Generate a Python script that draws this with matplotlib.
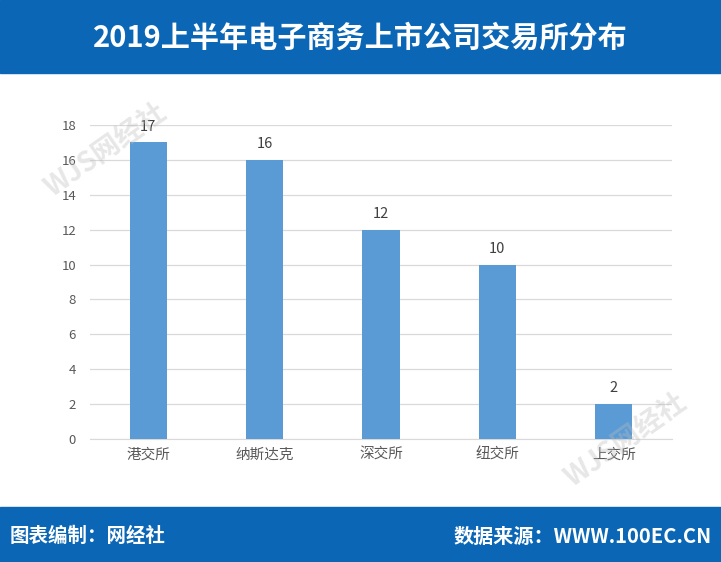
import matplotlib
matplotlib.use("Agg")
import matplotlib.pyplot as plt

plt.rcParams["font.family"] = ["Noto Sans CJK SC", "DejaVu Sans"]

# 数据
exchanges = ["港交所", "纳斯达克", "深交所", "纽交所", "上交所"]
counts = [17, 16, 12, 10, 2]
y_ticks = [0, 2, 4, 6, 8, 10, 12, 14, 16, 18]

TITLE = "2019上半年电子商务上市公司交易所分布"
BLUE_BAND = "#0B67B6"
BAR = "#5B9BD5"
GRID = "#D9D9D9"
TEXT = "#595959"

fig = plt.figure(figsize=(7.21, 5.62), dpi=100)
fig.patch.set_facecolor("white")

# 顶部和底部蓝色条
fig.patches.append(plt.Rectangle((0, 1 - 73 / 562), 1, 73 / 562, transform=fig.transFigure,
                                 color=BLUE_BAND, zorder=0))
fig.patches.append(plt.Rectangle((0, 0), 1, 55 / 562, transform=fig.transFigure,
                                 color=BLUE_BAND, zorder=0))

fig.text(0.5, 1 - 38 / 562, TITLE, color="white", fontsize=21, fontweight="bold",
         ha="center", va="center")
fig.text(10 / 721, 1 - 536 / 562, "图表编制：网经社", color="white", fontsize=14,
         fontweight="bold", ha="left", va="center")
fig.text(712 / 721, 1 - 536 / 562, "数据来源：WWW.100EC.CN", color="white", fontsize=14.5,
         fontweight="bold", ha="right", va="center")

ax = fig.add_axes([90 / 721, 1 - 439 / 562, 582 / 721, 314 / 562])
x = range(len(exchanges))
ax.bar(x, counts, width=0.32, color=BAR, zorder=3)
for xi, v in zip(x, counts):
    ax.text(xi, v + 0.5, str(v), ha="center", va="bottom", fontsize=10.5,
            color="#404040")

ax.set_xlim(-0.5, len(exchanges) - 0.5)
ax.set_ylim(0, 18)
ax.set_yticks(y_ticks)
ax.set_xticks(list(x))
ax.set_xticklabels(exchanges, fontsize=10.5, color=TEXT)
ax.tick_params(axis="y", length=0, pad=10, labelsize=9.5, labelcolor=TEXT)
ax.tick_params(axis="x", length=0, pad=6)
ax.grid(axis="y", color=GRID, linewidth=0.9, zorder=0)
for s in ["left", "right", "top"]:
    ax.spines[s].set_visible(False)
ax.spines["bottom"].set_color(GRID)

# 水印
for (wx, wy) in [(40 / 721, 1 - 150 / 562), (560 / 721, 1 - 440 / 562)]:
    fig.text(wx, wy, "WJS网经社", fontsize=20, fontweight="bold", color="#BBBBBB",
             alpha=0.35, rotation=35, ha="left", va="center")

fig.savefig("out.png", dpi=100, facecolor="white")
